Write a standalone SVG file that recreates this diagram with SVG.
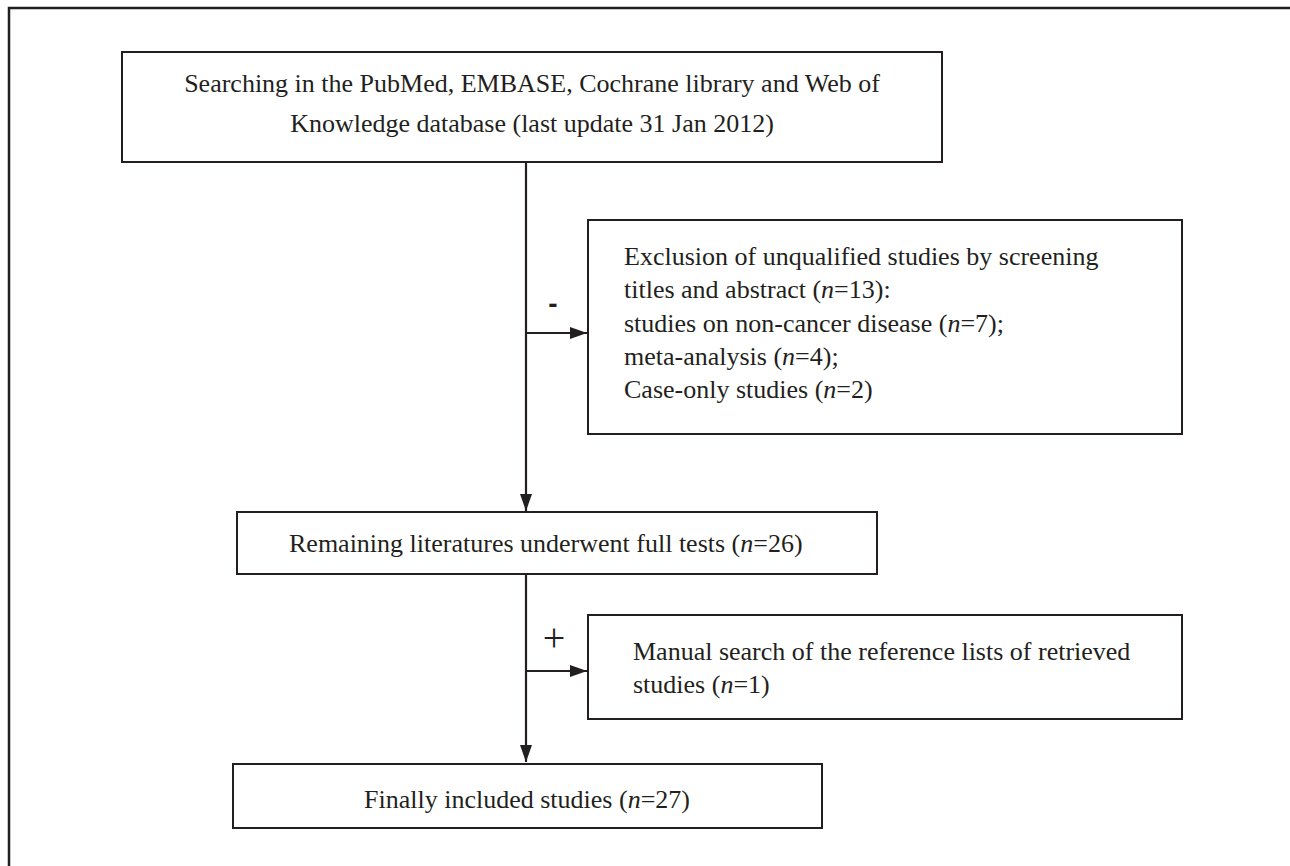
<svg xmlns="http://www.w3.org/2000/svg" width="1290" height="866" viewBox="0 0 1290 866">
<defs>
<marker id="ah" markerWidth="17" markerHeight="12" refX="17" refY="6" orient="auto" markerUnits="userSpaceOnUse">
<path d="M0,0 L17,6 L0,12 Z" fill="#231f20"/>
</marker>
<style>
.box{fill:#fff;stroke:#231f20;stroke-width:2}
.t{font-family:"Liberation Serif","Times New Roman",serif;font-size:26px;fill:#231f20}
.c{stroke:#231f20;stroke-width:2.2;fill:none}
.i{font-style:italic}
</style>
</defs>
<rect width="1290" height="866" fill="#fff"/>
<path d="M9,866 V8 H1290" fill="none" stroke="#231f20" stroke-width="2.5"/>
<g id="connectors">
<line class="c" x1="526" y1="162" x2="526" y2="511" marker-end="url(#ah)"/>
<line class="c" x1="526" y1="333" x2="587" y2="333" marker-end="url(#ah)"/>
<line class="c" x1="526" y1="574" x2="526" y2="762" marker-end="url(#ah)"/>
<line class="c" x1="526" y1="671" x2="587" y2="671" marker-end="url(#ah)"/>
<text x="553" y="313" text-anchor="middle" style="font-family:'Liberation Sans',Arial,sans-serif;font-size:28px;font-weight:bold;fill:#231f20">-</text>
<text x="554" y="651" text-anchor="middle" class="t" style="font-size:40px">+</text>
</g>
<g id="search">
<rect class="box" x="122" y="52" width="820" height="110"/>
<text class="t" x="532" y="92" text-anchor="middle">Searching in the PubMed, EMBASE, Cochrane library and Web of</text>
<text class="t" x="532" y="132" text-anchor="middle">Knowledge database (last update 31 Jan 2012)</text>
</g>
<g id="exclusion">
<rect class="box" x="588" y="220" width="594" height="214"/>
<text class="t" x="624" y="265">Exclusion of unqualified studies by screening</text>
<text class="t" x="624" y="298">titles and abstract (<tspan class="i">n</tspan>=13):</text>
<text class="t" x="624" y="332">studies on non-cancer disease (<tspan class="i">n</tspan>=7);</text>
<text class="t" x="624" y="365">meta-analysis (<tspan class="i">n</tspan>=4);</text>
<text class="t" x="624" y="398">Case-only studies (<tspan class="i">n</tspan>=2)</text>
</g>
<g id="remaining">
<rect class="box" x="237" y="512" width="640" height="62"/>
<text class="t" x="289" y="552">Remaining literatures underwent full tests (<tspan class="i">n</tspan>=26)</text>
</g>
<g id="manual">
<rect class="box" x="588" y="615" width="594" height="104"/>
<text class="t" x="633" y="660">Manual search of the reference lists of retrieved</text>
<text class="t" x="633" y="693">studies (<tspan class="i">n</tspan>=1)</text>
</g>
<g id="final">
<rect class="box" x="233" y="764" width="589" height="64"/>
<text class="t" x="527" y="808" text-anchor="middle">Finally included studies (<tspan class="i">n</tspan>=27)</text>
</g>
</svg>
